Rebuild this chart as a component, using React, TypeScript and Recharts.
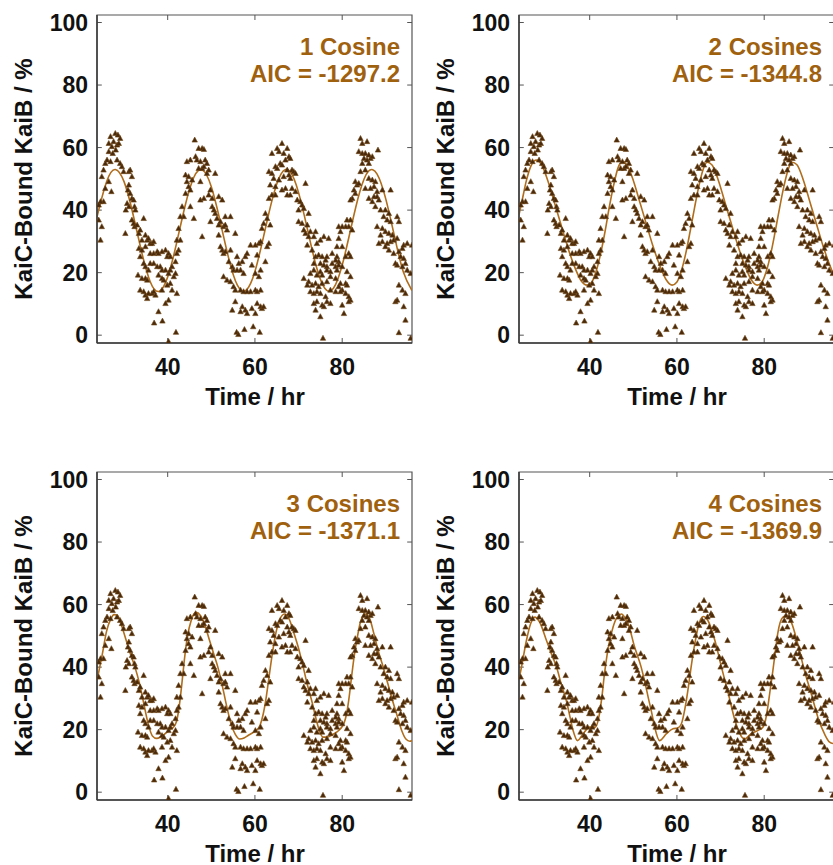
import React from "react";
import { ComposedChart, Scatter, Line, XAxis, YAxis, ReferenceLine, ReferenceArea } from "recharts";

const pointsA = [
  [26.9,63.5],[28.0,64.5],[28.6,64.0],[27.6,61.9],[26.5,61.3],[27.2,60.3],[28.4,60.8],[28.8,61.3],[29.1,62.9],[28.1,59.2],
  [26.5,58.7],[27.4,58.1],[26.1,56.0],[26.9,55.5],[25.7,54.9],[28.4,56.0],[29.1,54.9],[29.5,53.9],[29.9,52.3],[25.3,52.8],
  [24.9,50.7],[26.5,49.1],[27.1,45.9],[25.7,46.9],[25.3,42.7],[24.6,42.7],[24.2,41.6],[24.2,36.8],[24.9,34.7],[24.6,30.4],
  [31.1,52.3],[31.4,52.8],[31.8,50.7],[31.1,48.0],[30.9,46.4],[31.4,45.3],[30.7,42.1],[31.1,41.1],[30.4,40.0],[30.3,32.5],
  [31.8,43.7],[32.2,43.2],[32.4,41.1],[32.6,40.0],[31.8,36.8],[32.2,35.7],[32.4,34.7],[33.0,35.2],[33.4,32.5],[33.7,33.6],
  [34.5,37.3],[34.1,30.4],[34.9,32.0],[35.3,30.4],[35.6,30.9],[36.0,29.3],[34.9,28.3],[36.4,29.3],[36.8,29.9],[36.0,26.1],
  [36.8,26.1],[37.6,26.7],[37.9,26.1],[38.7,26.7],[39.5,27.2],[39.9,25.1],[40.2,26.1],[33.4,27.7],[34.1,27.2],[33.7,25.1],
  [34.5,22.9],[34.9,21.9],[35.6,20.8],[36.0,22.9],[36.8,22.9],[37.6,21.9],[38.3,21.9],[38.7,20.8],[39.5,20.8],[40.2,19.7],
  [40.6,20.8],[41.0,21.9],[41.4,18.7],[41.8,19.7],[40.6,25.1],[40.6,16.5],[39.9,16.0],[38.7,18.1],[39.1,17.6],[37.9,19.2],
  [33.2,19.2],[34.1,18.1],[34.9,18.1],[35.3,17.6],[34.5,13.9],[33.7,14.4],[34.9,12.8],[35.6,13.3],[35.3,11.7],[36.4,13.3],
  [36.8,13.9],[37.2,12.8],[38.7,14.4],[39.5,10.1],[40.2,11.2],[41.0,14.4],[42.1,13.3],[37.9,7.5],[36.9,3.9],[38.8,4.5],
  [41.9,0.9],[40.2,-2.0],[42.1,30.4],[42.5,34.1],[42.5,27.2],[42.1,26.1],[41.8,23.5],
];

const pointsB = [
  [46.2,62.4],[47.1,59.7],[47.9,59.7],[48.3,59.4],[45.2,56.0],[44.4,55.5],[46.4,57.1],[46.7,56.0],[47.5,55.5],[48.6,56.0],
  [49.0,54.9],[47.1,53.3],[47.9,53.3],[48.3,53.9],[49.4,52.8],[49.0,51.7],[50.9,51.7],[44.1,51.2],[44.8,50.7],[44.4,49.1],
  [45.6,49.6],[47.5,49.1],[44.8,47.5],[45.2,46.4],[44.1,45.3],[43.3,41.1],[43.7,37.9],[42.9,37.9],[45.2,41.1],[46.0,37.3],
  [47.5,43.2],[48.3,43.7],[49.4,44.8],[50.2,43.7],[49.8,46.4],[51.7,44.3],[52.5,43.2],[50.2,41.1],[50.6,40.0],[50.9,38.9],
  [49.8,36.3],[47.9,31.5],[51.3,37.3],[51.7,35.2],[52.1,36.3],[53.2,37.9],[54.4,37.9],[52.8,34.7],[53.2,35.2],[53.6,33.6],
  [51.7,32.0],[52.1,28.3],[52.5,27.2],[52.8,26.1],[53.2,26.7],[54.4,27.2],[55.5,32.5],[54.0,23.5],[54.8,21.9],[55.9,25.1],
  [56.3,22.9],[57.1,23.5],[57.8,25.1],[58.2,26.1],[59.0,28.8],[60.1,28.8],[60.5,25.6],[60.9,29.3],[55.1,20.8],[55.9,20.8],
  [56.7,20.8],[57.4,19.7],[59.3,22.4],[60.1,19.7],[52.8,18.7],[53.6,17.6],[54.4,17.1],[55.1,15.5],[55.5,14.4],[56.7,14.4],
  [57.4,13.9],[58.2,13.9],[59.0,13.9],[60.1,14.4],[60.5,13.9],[55.5,10.7],[54.8,8.0],[57.1,9.1],[57.8,8.0],[56.7,7.5],
  [58.2,6.9],[59.3,8.5],[60.5,10.1],[60.1,6.9],[55.8,0.9],[56.2,0.2],[57.6,1.8],[59.6,2.7],[61.1,0.9],[42.9,30.4],
];

const pointsC = [
  [66.2,61.3],[65.1,59.7],[67.4,59.7],[63.9,58.1],[65.5,58.7],[66.6,58.1],[67.8,57.1],[68.1,56.5],[67.0,56.0],[65.8,54.9],
  [66.2,54.4],[64.7,53.9],[65.1,53.3],[63.2,52.3],[63.9,51.7],[67.4,52.8],[68.5,52.8],[68.9,52.3],[69.3,51.7],[64.3,50.1],
  [65.5,49.6],[66.6,50.7],[67.8,51.2],[68.1,50.1],[71.6,48.5],[63.5,48.0],[64.7,47.5],[66.2,46.4],[67.0,46.9],[68.5,46.9],
  [69.3,45.9],[63.9,44.8],[64.7,44.8],[67.4,44.8],[68.1,44.8],[69.7,43.2],[70.4,42.7],[70.8,41.6],[71.2,40.5],[72.3,38.9],
  [70.0,40.0],[63.2,43.7],[62.4,38.9],[62.8,37.3],[63.5,35.2],[62.0,35.7],[61.6,34.1],[61.3,29.9],[63.2,29.3],[62.8,28.3],
  [62.4,23.5],[61.3,20.8],[60.9,18.7],[61.3,14.4],[70.0,36.3],[70.8,35.7],[72.0,35.2],[71.2,33.6],[71.6,32.5],[72.3,31.5],
  [72.7,33.1],[73.9,33.1],[73.5,31.5],[72.0,28.8],[73.1,27.2],[74.2,29.3],[75.0,30.4],[75.8,31.5],[76.9,30.9],[79.2,34.7],
  [79.2,30.9],[78.8,28.3],[73.9,25.1],[74.6,25.6],[75.4,25.1],[76.2,24.0],[76.5,25.1],[77.7,26.1],[78.8,25.1],[79.2,23.5],
  [73.5,22.9],[75.0,22.9],[75.8,22.4],[76.5,21.9],[77.7,22.9],[78.5,21.9],[78.5,24.0],[72.7,19.7],[73.5,20.8],[74.2,19.2],
  [75.0,20.3],[75.4,19.2],[76.5,20.8],[77.3,20.3],[78.8,20.8],[72.3,17.1],[73.1,16.0],[73.9,16.5],[74.6,15.5],[75.4,16.5],
  [76.5,17.1],[77.3,18.7],[78.5,18.1],[71.2,18.1],[72.0,16.0],[72.7,13.9],[73.5,13.3],[74.2,13.9],[75.0,13.3],[76.2,12.3],
  [77.3,14.4],[78.5,13.9],[73.5,10.1],[74.2,10.7],[75.4,9.6],[77.3,10.1],[76.5,10.7],[73.9,8.0],[75.0,5.9],[75.8,9.1],
  [75.6,-1.0],[61.3,9.1],[61.6,8.5],[62.0,9.1],
];

const pointsD = [
  [84.2,62.9],[84.6,61.3],[85.7,61.9],[83.8,58.7],[84.6,58.1],[85.3,58.1],[86.1,57.6],[86.5,56.5],[86.9,57.1],[85.0,56.5],
  [88.2,59.2],[84.6,54.9],[85.7,56.0],[86.1,54.9],[85.3,52.8],[84.2,52.3],[83.0,49.1],[83.4,48.0],[83.8,48.5],[82.7,46.4],
  [82.3,43.7],[81.9,43.2],[83.0,45.3],[86.1,50.1],[86.9,49.6],[87.6,49.1],[87.3,47.5],[86.5,46.9],[85.3,46.9],[88.0,45.9],
  [89.2,46.4],[91.1,46.4],[87.3,44.3],[88.0,44.3],[88.4,43.2],[86.9,42.7],[86.1,43.7],[87.6,41.1],[88.8,40.0],[89.9,40.0],
  [90.7,38.9],[89.5,37.9],[90.3,36.8],[91.1,36.3],[92.6,37.9],[93.0,36.3],[88.0,34.7],[89.2,34.1],[89.9,33.1],[90.7,32.5],
  [91.5,32.0],[88.8,32.0],[89.2,29.9],[88.4,29.3],[90.3,29.3],[91.1,29.9],[91.8,30.4],[92.6,30.9],[89.9,28.3],[90.7,27.2],
  [91.8,26.1],[93.0,26.7],[93.8,27.7],[94.1,28.8],[94.9,29.3],[93.4,25.1],[94.1,24.5],[94.5,22.9],[92.2,22.9],[92.6,22.4],
  [93.8,21.9],[94.9,20.8],[95.7,19.7],[93.0,16.0],[93.8,14.4],[94.5,13.3],[92.2,10.7],[92.6,11.2],[94.1,9.1],[94.5,4.8],
  [93.0,0.8],[95.7,-1.0],[96.0,28.8],[81.1,36.8],[81.9,36.8],[81.5,34.7],[80.8,34.7],[82.3,33.6],[80.0,34.7],[79.6,33.1],
  [80.0,28.3],[80.8,25.1],[81.5,26.1],[81.9,25.1],[79.2,22.4],[80.0,21.9],[81.1,20.3],[81.9,18.7],[79.6,16.5],[80.8,16.5],
  [81.1,16.0],[79.2,15.5],[80.0,14.4],[80.8,13.3],[81.5,12.3],[79.6,13.9],[80.0,9.6],[81.9,11.2],[81.5,10.7],[80.4,6.9],
];

// fitted curves, [time hr, percent]
const fit1 = [
  [23.8,37.8],[24,39],[26,49.1],[28,53],[30,49.1],[32,39],[34,26.8],[36,17.1],[38,14],[40,18.6],[42,29.2],[44,41.4],
  [46,50.5],[48,52.8],[50,47.5],[52,36.6],[54,24.5],[56,15.9],[58,14.4],[60,20.4],[62,31.7],[64,43.6],[66,51.6],[68,52.4],
  [70,45.6],[72,34.1],[74,22.3],[76,15],[78,15],[80,22.4],[82,34.2],[84,45.7],[86,52.4],[88,51.5],[90,43.5],[92,31.5],
  [94,20.3],[96,14.3],
];
const fit2 = [
  [23.8,38.5],[24.5,43],[25.5,49.5],[26.5,54],[27.7,56],[29,54.5],[30.5,49],[32,42],[33.5,35],[35,28],[36.5,22],[38,17.5],
  [39.4,16],[40.5,17],[41.5,20.5],[42.5,26],[43.5,33],[44.5,41],[45.5,48],[46.5,53.5],[47.5,55.5],[48.5,54.5],[50,49.5],
  [51.5,42.5],[53,35.5],[54.5,28.5],[56,22.5],[57.5,17.8],[58.9,16],[60,17],[61,20.5],[62,26],[63,33],[64,40.5],[65,47.5],
  [66,53],[66.9,55.3],[68,54.5],[69.5,49.5],[71,42.5],[72.5,35.5],[74,28.5],[75.5,22.5],[77,17.8],[78.4,16],[79.5,17],
  [80.5,20.5],[81.5,26],[82.5,33],[83.5,40.5],[84.5,47.5],[85.5,53],[86.4,55.3],[87.5,54.5],[89,49.5],[90.5,42.5],[92,35.5],
  [93.5,28.5],[95,22.5],[96,19],
];
const fit3 = [
  [23.8,35.7],[25,44],[26,51.5],[27,55.5],[27.7,56.8],[28.5,56.5],[29.5,53],[30.5,48.5],[31.5,44],[32.5,40],[33.5,35],
  [34.5,28.5],[35.5,22],[36.5,18],[37.5,17.2],[38.5,17.8],[39.5,18.8],[40.5,20],[41.3,20.8],[42,22.5],[42.6,27],[43.2,34],
  [43.8,42],[44.5,49.5],[45.4,55],[46.5,57.5],[47.5,56.5],[48.5,53.5],[49.6,48.5],[50.6,44],[51.5,40],[52.6,33.5],[53.6,27],
  [54.6,21.5],[55.5,18.5],[56.5,17],[57.5,17.3],[58.5,18.2],[59.5,19],[60.4,19.8],[61.2,21.5],[61.9,25],[62.6,30.5],
  [63.2,36.5],[63.9,43.5],[64.6,49.5],[65.6,55],[66.8,57],[67.8,55.5],[68.8,51.5],[69.9,46.5],[70.9,41],[71.9,35],[73,29.3],
  [74,23.5],[74.8,19.5],[75.6,17.6],[76.6,17.6],[77.6,18.3],[78.7,19.2],[79.6,20.3],[80.4,22],[81,25],[81.6,30.5],
  [82.2,37.5],[82.8,44],[83.4,49],[84.2,54.5],[85.3,57],[86.3,55.5],[87.3,50.5],[88.3,45],[89.4,40],[90.5,34.5],[91.6,29],
  [92.7,24],[93.7,19.5],[94.6,17],[95.5,16.3],[96,16.5],
];
const fit4 = [
  [23.8,36],[24.5,41],[25.5,48.5],[26.5,54],[27.4,56],[28.5,54.5],[30.1,48.5],[31.3,44],[32.4,40],[33.5,34.5],[34.7,29],
  [35.5,24],[36.2,19.7],[37.2,16.5],[38.5,18.7],[40,20.8],[41.3,20.8],[42.1,24],[42.8,30.5],[43.4,38],[44,44],[44.6,48.5],
  [45.4,53],[46.3,56],[47.3,57],[48.2,55.5],[48.8,53.9],[50.3,46.4],[51.8,40],[52.6,35.5],[53.4,30.4],[54.2,25.5],
  [54.9,20.8],[56,16.5],[57.6,18.7],[59.1,20.3],[60.2,20.5],[61,21.8],[61.8,26.5],[62.5,32.5],[63.1,38.5],[63.7,44.2],
  [64.3,49],[64.8,52.5],[66,56.2],[67.1,54.9],[68.7,48.5],[70.2,40],[71.8,31.4],[73.3,23],[74.4,18.7],[75.5,17],[77,18.7],
  [78.5,19.7],[79.7,20.8],[80.3,23],[80.8,27],[81.4,33],[82,39],[82.6,45.5],[83.1,50.7],[84.3,56],[85.1,56.4],[86.2,54.4],
  [87.7,47.4],[89.2,39],[90.8,31.4],[92.3,24],[93.8,18.7],[95,16],[96,15.5],
];

const panelTitles = ["1 Cosine", "2 Cosines", "3 Cosines", "4 Cosines"];
const panelAic = ["AIC = -1297.2", "AIC = -1344.8", "AIC = -1371.1", "AIC = -1369.9"];
const xTicks = [40, 60, 80];
const yTicks = [0, 20, 40, 60, 80, 100];

const X_MIN = 23.8;
const X_MAX = 96.0;
const Y_MIN = -2.5;
const Y_MAX = 102.4;

const FONT = "'Liberation Sans', Arial, sans-serif";
const BROWN = "#a0610f";

const toXY = (arr: number[][]) => arr.map(([t, v]) => ({ t, v }));
const scatterData = toXY([...pointsA, ...pointsB, ...pointsC, ...pointsD]);

function Triangle(props: any) {
  const { cx, cy } = props;
  if (cx == null || cy == null) return null;
  return (
    <polygon
      points={`${cx},${cy - 3} ${cx - 2.7},${cy + 2} ${cx + 2.7},${cy + 2}`}
      fill="#4a2a0a"
      stroke="#6e4415"
      strokeWidth={0.6}
    />
  );
}

function Panel({ left, top, fit, title, aic, curve }: { left: number; top: number; fit: number[][]; title: string; aic: string; curve: any }) {
  const tickStyle = { fontSize: 23, fontWeight: 700, fill: "#111", fontFamily: FONT };
  return (
    <div style={{ position: "absolute", left, top }}>
      <ComposedChart width={420} height={430} margin={{ top: 15, right: 8, bottom: 27, left: 37 }}>
        <XAxis
          type="number"
          dataKey="t"
          domain={[X_MIN, X_MAX]}
          ticks={xTicks}
          allowDataOverflow
          tickLine={false}
          tickSize={0}
          tickMargin={16}
          height={60}
          tick={tickStyle}
          axisLine={{ stroke: "#3a3a3a", strokeWidth: 1.5 }}
        />
        <YAxis
          type="number"
          dataKey="v"
          domain={[Y_MIN, Y_MAX]}
          ticks={yTicks}
          allowDataOverflow
          tickLine={false}
          tickSize={0}
          tickMargin={9}
          width={60}
          tick={tickStyle}
          axisLine={{ stroke: "#3a3a3a", strokeWidth: 1.5 }}
        />
        <ReferenceArea x1={X_MIN} x2={X_MAX} y1={Y_MIN} y2={Y_MAX} fill="none" stroke="#555" strokeWidth={1.2} />
        {yTicks.map((v) => (
          <ReferenceLine key={"yl" + v} segment={[{ x: X_MIN, y: v }, { x: X_MIN + 1.1, y: v }]} stroke="#555" />
        ))}
        {yTicks.map((v) => (
          <ReferenceLine key={"yr" + v} segment={[{ x: X_MAX - 1.1, y: v }, { x: X_MAX, y: v }]} stroke="#555" />
        ))}
        {xTicks.map((t) => (
          <ReferenceLine key={"xb" + t} segment={[{ x: t, y: Y_MIN }, { x: t, y: Y_MIN + 1.6 }]} stroke="#555" />
        ))}
        {xTicks.map((t) => (
          <ReferenceLine key={"xt" + t} segment={[{ x: t, y: Y_MAX - 1.6 }, { x: t, y: Y_MAX }]} stroke="#555" />
        ))}
        <Scatter data={scatterData} dataKey="v" shape={Triangle} isAnimationActive={false} />
        <Line
          data={toXY(fit)}
          dataKey="v"
          type={curve}
          stroke="#b06d1c"
          strokeWidth={1.6}
          dot={false}
          activeDot={false}
          isAnimationActive={false}
        />
        <text x={400} y={46} textAnchor="end" dominantBaseline="central" fontSize={24} fontWeight={700} fill={BROWN} fontFamily={FONT}>
          {title}
        </text>
        <text x={400} y={73} textAnchor="end" dominantBaseline="central" fontSize={24} fontWeight={700} fill={BROWN} fontFamily={FONT}>
          {aic}
        </text>
        <text x={255} y={396} textAnchor="middle" dominantBaseline="central" fontSize={24} fontWeight={700} fill="#111" fontFamily={FONT}>
          Time / hr
        </text>
        <text
          x={23}
          y={179}
          textAnchor="middle"
          dominantBaseline="central"
          fontSize={24}
          fontWeight={700}
          fill="#111"
          fontFamily={FONT}
          transform="rotate(-90 23 179)"
        >
          KaiC-Bound KaiB / %
        </text>
      </ComposedChart>
    </div>
  );
}

export default function App() {
  const fits = [fit1, fit2, fit3, fit4];
  const curves = ["natural", "monotone", "monotone", "monotone"];
  const spots = [
    [0, 0],
    [422, 0],
    [0, 457],
    [422, 457],
  ];
  return (
    <div style={{ position: "absolute", left: 0, top: 0, width: 833, height: 865, overflow: "hidden", background: "#fff" }}>
      {fits.map((fit, i) => (
        <Panel key={i} left={spots[i][0]} top={spots[i][1]} fit={fit} title={panelTitles[i]} aic={panelAic[i]} curve={curves[i]} />
      ))}
    </div>
  );
}
